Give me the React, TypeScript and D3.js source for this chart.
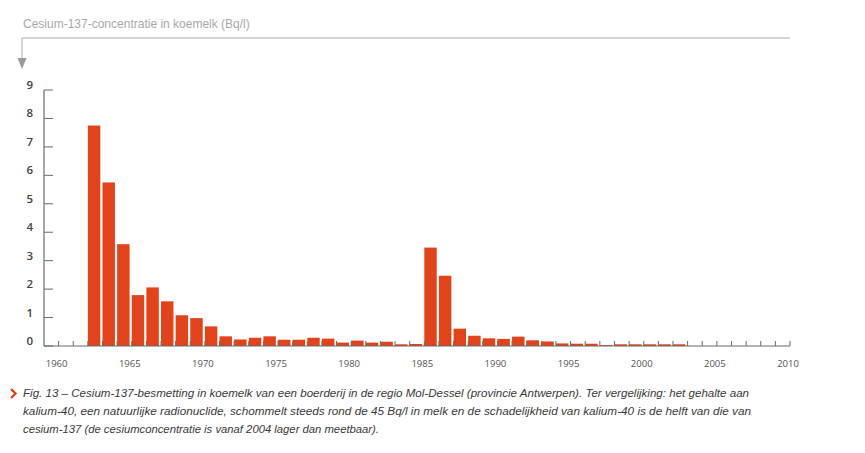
import React, { useEffect, useRef } from 'react';
import * as d3 from 'd3';

// Cesium-137 in koemelk, Mol-Dessel (Bq/l), one bar per year
const years = [
    1963, 1964, 1965, 1966, 1967, 1968, 1969, 1970, 1971, 1972,
    1973, 1974, 1975, 1976, 1977, 1978, 1979, 1980, 1981, 1982,
    1983, 1984, 1985, 1986, 1987, 1988, 1989, 1990, 1991, 1992,
    1993, 1994, 1995, 1996, 1997, 1998, 1999, 2000, 2001, 2002, 2003,
];
const values = [
    7.75, 5.75, 3.58, 1.79, 2.06, 1.57, 1.08, 0.98, 0.69, 0.34,
    0.23, 0.29, 0.34, 0.22, 0.22, 0.29, 0.26, 0.12, 0.19, 0.12,
    0.15, 0.06, 0.07, 3.46, 2.47, 0.61, 0.36, 0.27, 0.25, 0.33,
    0.2, 0.16, 0.09, 0.08, 0.08, 0.03, 0.06, 0.06, 0.06, 0.06, 0.06,
];
const yTicks = [0, 1, 2, 3, 4, 5, 6, 7, 8, 9];
const xLabels = [1960, 1965, 1970, 1975, 1980, 1985, 1990, 1995, 2000, 2005, 2010];

const title = 'Cesium-137-concentratie in koemelk (Bq/l)';
const caption = [
    'Fig. 13 – Cesium-137-besmetting in koemelk van een boerderij in de regio Mol-Dessel (provincie Antwerpen). Ter vergelijking: het gehalte aan',
    'kalium-40, een natuurlijke radionuclide, schommelt steeds rond de 45 Bq/l in melk en de schadelijkheid van kalium-40 is de helft van die van',
    'cesium-137 (de cesiumconcentratie is vanaf 2004 lager dan meetbaar).',
];

export default function App() {
    const svgRef = useRef<SVGSVGElement>(null);

    useEffect(() => {
        if (!svgRef.current) return;
        const svg = d3.select(svgRef.current);
        svg.selectAll('*').remove();

        const x = d3.scaleLinear().domain([1959, 2010]).range([44, 790]);
        const y = d3.scaleLinear().domain([0, 9]).range([346, 90]);
        const step = x(1) - x(0);
        const axisColor = '#6b6b6b';

        // header: title, rule and arrow
        svg.append('text')
            .attr('x', 23)
            .attr('y', 28)
            .attr('fill', '#a9a9a9')
            .style('font-family', '"Liberation Sans", Arial, sans-serif')
            .style('font-size', '12px')
            .text(title);

        svg.append('path')
            .attr('d', 'M790,38 H22 V60')
            .attr('fill', 'none')
            .attr('stroke', '#c8c8c8')
            .attr('stroke-width', 1.5);
        svg.append('path')
            .attr('d', 'M17.5,58 L26.5,58 L22,69 Z')
            .attr('fill', '#9a9a9a');

        // bars
        svg.append('g')
            .selectAll('rect')
            .data(years.map((yr, i) => ({ yr, v: values[i] })))
            .enter()
            .append('rect')
            .attr('x', d => x(d.yr - 1))
            .attr('width', step - 2.2)
            .attr('y', d => y(d.v))
            .attr('height', d => y(0) - y(d.v))
            .attr('fill', '#e3431a');

        // x axis: ticks every year, pointing up
        const xg = svg.append('g');
        xg.append('line')
            .attr('x1', x(1959)).attr('x2', x(2010))
            .attr('y1', y(0)).attr('y2', y(0))
            .attr('stroke', axisColor).attr('stroke-width', 1.2);
        xg.selectAll('line.tick')
            .data(d3.range(1960, 2011))
            .enter()
            .append('line')
            .attr('class', 'tick')
            .attr('x1', d => x(d)).attr('x2', d => x(d))
            .attr('y1', y(0)).attr('y2', y(0) - 5)
            .attr('stroke', axisColor).attr('stroke-width', 1);
        xg.selectAll('text')
            .data(xLabels)
            .enter()
            .append('text')
            .attr('x', d => x(d) - 2)
            .attr('y', 367)
            .attr('text-anchor', 'middle')
            .attr('fill', '#555')
            .style('font-family', '"Open Sans", sans-serif')
            .style('font-size', '9.5px')
            .text(d => d);

        // y axis: ticks pointing inward
        const yg = svg.append('g');
        yg.append('line')
            .attr('x1', 44).attr('x2', 44)
            .attr('y1', y(9)).attr('y2', y(0))
            .attr('stroke', axisColor).attr('stroke-width', 1.2);
        yg.selectAll('line.tick')
            .data(yTicks)
            .enter()
            .append('line')
            .attr('class', 'tick')
            .attr('x1', 44).attr('x2', 53)
            .attr('y1', d => y(d)).attr('y2', d => y(d))
            .attr('stroke', axisColor).attr('stroke-width', 1);
        yg.selectAll('text')
            .data(yTicks)
            .enter()
            .append('text')
            .attr('x', 33)
            .attr('y', d => y(d) - 1)
            .attr('text-anchor', 'end')
            .attr('fill', '#444')
            .style('font-family', '"Open Sans", sans-serif')
            .style('font-size', '11.5px')
            .style('font-weight', 600)
            .text(d => d);

        // caption
        svg.append('path')
            .attr('d', 'M11,389 L15.5,393.5 L11,398')
            .attr('fill', 'none')
            .attr('stroke', '#e3431a')
            .attr('stroke-width', 2.4);
        svg.append('g')
            .selectAll('text')
            .data(caption)
            .enter()
            .append('text')
            .attr('x', 23)
            .attr('y', (d, i) => 397 + i * 18)
            .attr('fill', '#3a3a3a')
            .style('font-family', '"Liberation Sans", Arial, sans-serif')
            .style('font-size', '11.5px')
            .style('font-style', 'italic')
            .attr('textLength', (d, i) => (i === 0 ? 726 : i === 1 ? 728 : 356))
            .attr('lengthAdjust', 'spacingAndGlyphs')
            .text(d => d);
    }, []);

    return (
        <svg
            ref={svgRef}
            width={865}
            height={453}
            viewBox="0 0 865 453"
            style={{ position: 'absolute', left: 0, top: 0, background: '#fff' }}
        />
    );
}
